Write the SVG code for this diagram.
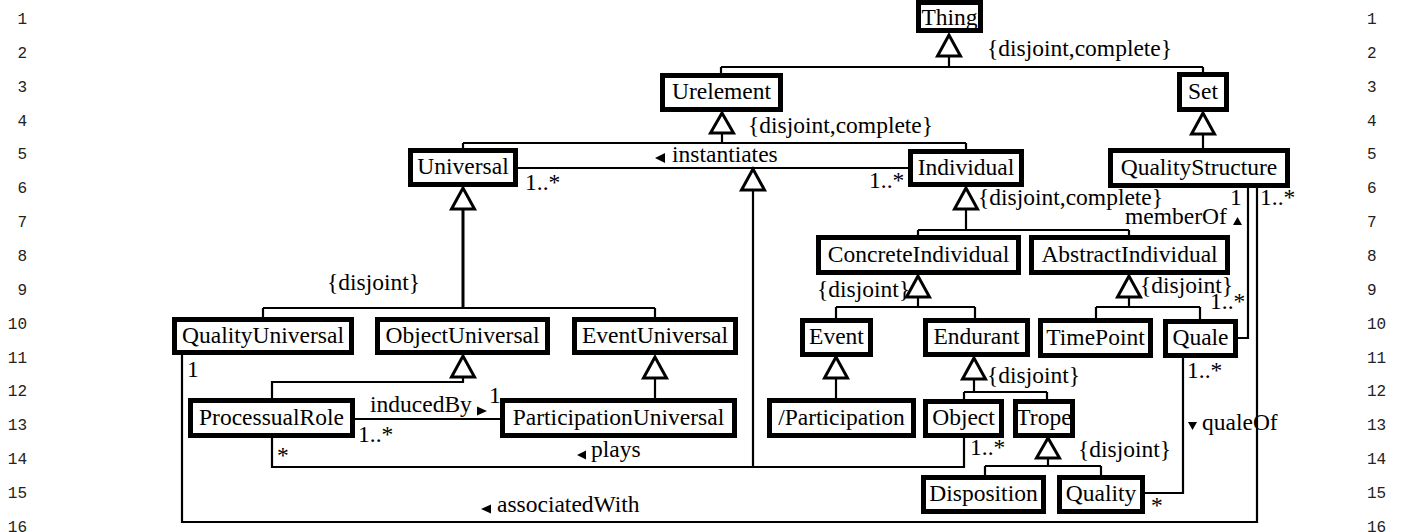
<svg xmlns="http://www.w3.org/2000/svg" width="1407" height="532" viewBox="0 0 1407 532">
<style>
.box{fill:#fff;stroke:#000;stroke-width:5}
.nm{font-family:"Liberation Serif","Times New Roman",serif;font-size:23.5px;text-anchor:middle;fill:#000}
.t{font-family:"Liberation Serif","Times New Roman",serif;font-size:23.5px;fill:#000}
.ln{fill:none;stroke:#000;stroke-width:2.2}
.thk{fill:none;stroke:#000;stroke-width:3}
.gen{fill:#fff;stroke:#000;stroke-width:3;stroke-linejoin:miter}
.arr{fill:#000}
.num{font-family:"Liberation Mono","DejaVu Sans Mono",monospace;font-size:16px;fill:#222}
.l{text-anchor:end}
</style>
<rect width="1407" height="532" fill="#fff"/>
<g id="line-numbers">
<text class="num l" x="27" y="24">1</text><text class="num l" x="27" y="58">2</text><text class="num l" x="27" y="92">3</text><text class="num l" x="27" y="126">4</text><text class="num l" x="27" y="159">5</text><text class="num l" x="27" y="193">6</text><text class="num l" x="27" y="227">7</text><text class="num l" x="27" y="261">8</text><text class="num l" x="27" y="295">9</text><text class="num l" x="27" y="329">10</text><text class="num l" x="27" y="363">11</text><text class="num l" x="27" y="396">12</text><text class="num l" x="27" y="430">13</text><text class="num l" x="27" y="464">14</text><text class="num l" x="27" y="498">15</text><text class="num l" x="27" y="532">16</text>
<text class="num" x="1367" y="24">1</text><text class="num" x="1367" y="58">2</text><text class="num" x="1367" y="92">3</text><text class="num" x="1367" y="126">4</text><text class="num" x="1367" y="159">5</text><text class="num" x="1367" y="193">6</text><text class="num" x="1367" y="227">7</text><text class="num" x="1367" y="261">8</text><text class="num" x="1367" y="295">9</text><text class="num" x="1367" y="329">10</text><text class="num" x="1367" y="363">11</text><text class="num" x="1367" y="396">12</text><text class="num" x="1367" y="430">13</text><text class="num" x="1367" y="464">14</text><text class="num" x="1367" y="498">15</text><text class="num" x="1367" y="532">16</text>
</g>
<g id="connectors">
<path class="ln" d="M949,56V67M721,67H1203M721,67V74M1203,67V73"/>
<path class="ln" d="M722,133V143M463,143H966M463,143V149M966,143V150"/>
<path class="ln" d="M1203,134V149"/>
<path class="thk" d="M463,209V308"/>
<path class="ln" d="M263,308H655M263,308V318M655,308V318"/>
<path class="ln" d="M966,209V230M918,230H1129M918,230V236M1129,230V236"/>
<path class="ln" d="M918,297V307M836,307H975M836,307V319M975,307V319"/>
<path class="ln" d="M1129,297V307M1096,307H1200M1096,307V319M1200,307V320"/>
<path class="ln" d="M463,377V382H272V399"/>
<path class="ln" d="M655,378V399"/>
<path class="ln" d="M836,378V399"/>
<path class="ln" d="M974,379V392M964,392H1047M964,392V400M1047,392V400"/>
<path class="ln" d="M1048,458V466M985,466H1101M985,466V476M1101,466V476"/>
<path class="ln" d="M518,168H908"/>
<path class="ln" d="M753,190V467"/>
<path class="ln" d="M272,437V467H964V437"/>
<path class="ln" d="M182,354V522H1257V187"/>
<path class="ln" d="M1248,187V338H1237"/>
<path class="ln" d="M1183,357V493H1144"/>
<path class="ln" d="M354,419H501"/>
<polygon class="gen" points="949,35 937.5,56 960.5,56"/>
<polygon class="gen" points="722,113 710.5,133 733.5,133"/>
<polygon class="gen" points="1203,113 1191.5,134 1214.5,134"/>
<polygon class="gen" points="463,188 451.5,209 474.5,209"/>
<polygon class="gen" points="966,188 954.5,209 977.5,209"/>
<polygon class="gen" points="918,276 906.5,297 929.5,297"/>
<polygon class="gen" points="1129,276 1117.5,297 1140.5,297"/>
<polygon class="gen" points="463,356 451.5,377 474.5,377"/>
<polygon class="gen" points="655,357 643.5,378 666.5,378"/>
<polygon class="gen" points="836,357 824.5,378 847.5,378"/>
<polygon class="gen" points="974,358 962.5,379 985.5,379"/>
<polygon class="gen" points="1048,438 1036.5,458 1059.5,458"/>
<polygon class="gen" points="753,169 741.5,190 764.5,190"/>
<polygon class="arr" points="655,158 665,153 665,163"/>
<polygon class="arr" points="487,411 477,406.5 477,415.5"/>
<polygon class="arr" points="577,455 586,450.5 586,459.5"/>
<polygon class="arr" points="481,509 491,504.5 491,513.5"/>
<polygon class="arr" points="1237.5,217 1233,225 1242,225"/>
<polygon class="arr" points="1192.5,430 1188,422 1197,422"/>
<text class="t" x="987" y="56">{disjoint,complete}</text>
<text class="t" x="748" y="133">{disjoint,complete}</text>
<text class="t" x="978" y="205">{disjoint,complete}</text>
<text class="t" x="327" y="290">{disjoint}</text>
<text class="t" x="817" y="297">{disjoint}</text>
<text class="t" x="1140" y="293">{disjoint}</text>
<text class="t" x="987" y="383">{disjoint}</text>
<text class="t" x="1078" y="457">{disjoint}</text>
<text class="t" x="672" y="162">instantiates</text>
<text class="t" x="525" y="190">1..*</text>
<text class="t" x="869" y="188">1..*</text>
<text class="t" x="187" y="377">1</text>
<text class="t" x="370" y="412">inducedBy</text>
<text class="t" x="489" y="403">1</text>
<text class="t" x="358" y="442">1..*</text>
<text class="t" x="277" y="463">*</text>
<text class="t" x="591" y="457">plays</text>
<text class="t" x="970" y="455">1..*</text>
<text class="t" x="497" y="512">associatedWith</text>
<text class="t" x="1230" y="205">1</text>
<text class="t" x="1260" y="205">1..*</text>
<text class="t" x="1125" y="224">memberOf</text>
<text class="t" x="1210" y="309">1..*</text>
<text class="t" x="1187" y="378">1..*</text>
<text class="t" x="1202" y="430">qualeOf</text>
<text class="t" x="1151" y="513">*</text>
</g>
<g id="Thing"><rect class="box" x="918.5" y="2.5" width="62" height="28"/><text class="nm" x="949.5" y="25">Thing</text></g>
<g id="Urelement"><rect class="box" x="662.5" y="75.5" width="118" height="34"/><text class="nm" x="721.5" y="99">Urelement</text></g>
<g id="Set"><rect class="box" x="1179.5" y="74.5" width="47" height="35"/><text class="nm" x="1203" y="99">Set</text></g>
<g id="Universal"><rect class="box" x="410.5" y="150.5" width="105" height="34"/><text class="nm" x="463" y="174">Universal</text></g>
<g id="Individual"><rect class="box" x="910.5" y="151.5" width="111" height="33"/><text class="nm" x="966" y="175">Individual</text></g>
<g id="QualityStructure"><rect class="box" x="1110.5" y="150.5" width="177" height="35"/><text class="nm" x="1199" y="175">QualityStructure</text></g>
<g id="ConcreteIndividual"><rect class="box" x="818.5" y="237.5" width="200" height="35"/><text class="nm" x="918.5" y="262">ConcreteIndividual</text></g>
<g id="AbstractIndividual"><rect class="box" x="1031.5" y="237.5" width="196" height="35"/><text class="nm" x="1129.5" y="262">AbstractIndividual</text></g>
<g id="QualityUniversal"><rect class="box" x="174.5" y="319.5" width="177" height="33"/><text class="nm" x="263" y="343">QualityUniversal</text></g>
<g id="ObjectUniversal"><rect class="box" x="377.5" y="319.5" width="170" height="33"/><text class="nm" x="462.5" y="343">ObjectUniversal</text></g>
<g id="EventUniversal"><rect class="box" x="574.5" y="319.5" width="161" height="33"/><text class="nm" x="655" y="343">EventUniversal</text></g>
<g id="Event"><rect class="box" x="802.5" y="320.5" width="68" height="34"/><text class="nm" x="836.5" y="344">Event</text></g>
<g id="Endurant"><rect class="box" x="925.5" y="320.5" width="102" height="34"/><text class="nm" x="976.5" y="344">Endurant</text></g>
<g id="TimePoint"><rect class="box" x="1040.5" y="320.5" width="110" height="35"/><text class="nm" x="1095.5" y="345">TimePoint</text></g>
<g id="Quale"><rect class="box" x="1165.5" y="321.5" width="70" height="34"/><text class="nm" x="1200.5" y="345">Quale</text></g>
<g id="ProcessualRole"><rect class="box" x="190.5" y="400.5" width="162" height="35"/><text class="nm" x="271.5" y="425">ProcessualRole</text></g>
<g id="ParticipationUniversal"><rect class="box" x="502.5" y="400.5" width="232" height="35"/><text class="nm" x="618.5" y="425">ParticipationUniversal</text></g>
<g id="Participation"><rect class="box" x="769.5" y="400.5" width="144" height="35"/><text class="nm" x="841.5" y="425">/Participation</text></g>
<g id="Object"><rect class="box" x="925.5" y="401.5" width="76" height="34"/><text class="nm" x="963.5" y="425">Object</text></g>
<g id="Trope"><rect class="box" x="1015.5" y="401.5" width="57" height="34"/><text class="nm" x="1044" y="425">Trope</text></g>
<g id="Disposition"><rect class="box" x="923.5" y="477.5" width="120" height="34"/><text class="nm" x="983.5" y="501">Disposition</text></g>
<g id="Quality"><rect class="box" x="1059.5" y="477.5" width="83" height="34"/><text class="nm" x="1101" y="501">Quality</text></g>
</svg>
